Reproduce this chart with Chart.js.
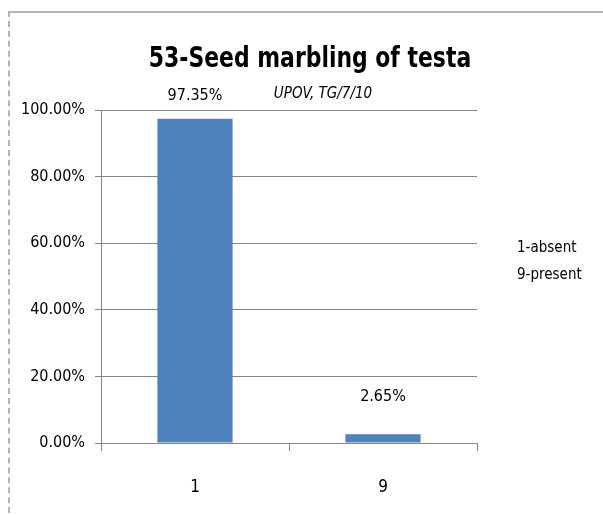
<!DOCTYPE html>
<html lang="en">
<head>
    <meta charset="UTF-8">
    <title>53-Seed marbling of testa</title>
    <script src="https://cdn.jsdelivr.net/npm/chart.js"></script>
    <style>
        html, body {
            margin: 0;
            padding: 0;
            background: #ffffff;
        }

        .frame {
            position: absolute;
            left: 8px;
            top: 11px;
            width: 600px;
            height: 510px;
            border-top: 2px solid #b4b4b4;
            border-left: 2px dashed #b4b4b4;
        }

        .chart-container {
            position: absolute;
            left: 0;
            top: 0;
            width: 603px;
            height: 515px;
        }
    </style>
</head>
<body>
    <div class="frame"></div>
    <div class="chart-container">
        <canvas id="marblingChart" width="603" height="515"></canvas>
    </div>

    <script>
        // Chart data
        const categories = ['1', '9'];
        const percentValues = [97.35, 2.65];
        const yTicks = [0, 20, 40, 60, 80, 100];
        const legendNotes = ['1-absent', '9-present'];

        const chartTitle = '53-Seed marbling of testa';
        const chartSubtitle = 'UPOV, TG/7/10';

        const FONT = '"Liberation Sans Narrow", "DejaVu Sans Condensed", "Liberation Sans", sans-serif';

        // Title, subtitle, value labels and side notes
        const textPlugin = {
            id: 'excelText',
            afterDatasetsDraw(chart) {
                const ctx = chart.ctx;
                ctx.save();
                ctx.fillStyle = '#000000';
                ctx.textAlign = 'center';
                ctx.textBaseline = 'middle';

                // title is narrow like Calibri, so squeeze it a bit
                ctx.save();
                ctx.translate(310, 60);
                ctx.scale(0.87, 1);
                ctx.font = 'bold 28px ' + FONT;
                ctx.fillText(chartTitle, 0, 0);
                ctx.restore();

                ctx.font = 'italic 15px ' + FONT;
                ctx.fillText(chartSubtitle, 323, 94);

                // value labels above the bars
                const labelGaps = [23, 37];
                ctx.font = '16px ' + FONT;
                chart.getDatasetMeta(0).data.forEach((bar, i) => {
                    ctx.fillText(percentValues[i].toFixed(2) + '%', bar.x, bar.y - labelGaps[i]);
                });

                ctx.textAlign = 'left';
                ctx.font = '15px ' + FONT;
                legendNotes.forEach((note, i) => {
                    ctx.fillText(note, 517, 248 + i * 27);
                });
                ctx.restore();
            }
        };

        const ctx = document.getElementById('marblingChart').getContext('2d');
        new Chart(ctx, {
            type: 'bar',
            data: {
                labels: categories,
                datasets: [{
                    data: percentValues,
                    backgroundColor: '#4f81bd',
                    borderWidth: 0,
                    barPercentage: 0.4,
                    categoryPercentage: 1
                }]
            },
            options: {
                responsive: false,
                animation: false,
                layout: {
                    padding: { top: 110, right: 126, bottom: 12, left: 0 }
                },
                plugins: {
                    legend: { display: false },
                    tooltip: { enabled: false }
                },
                scales: {
                    x: {
                        grid: {
                            drawOnChartArea: false,
                            drawTicks: true,
                            tickLength: 8,
                            color: '#868686'
                        },
                        border: { display: true, color: '#868686' },
                        ticks: {
                            color: '#000000',
                            padding: 26,
                            font: { family: FONT, size: 17 }
                        },
                        afterFit(scale) {
                            scale.height = 60;
                        }
                    },
                    y: {
                        min: 0,
                        max: 100,
                        afterBuildTicks(scale) {
                            scale.ticks = yTicks.map(v => ({ value: v }));
                        },
                        grid: {
                            color: '#868686',
                            tickLength: 6
                        },
                        border: { display: true, color: '#868686' },
                        ticks: {
                            color: '#000000',
                            padding: 10,
                            font: { family: FONT, size: 16 },
                            callback: v => v.toFixed(2) + '%'
                        },
                        afterFit(scale) {
                            scale.width = 101;
                        }
                    }
                }
            },
            plugins: [textPlugin]
        });
    </script>
</body>
</html>
